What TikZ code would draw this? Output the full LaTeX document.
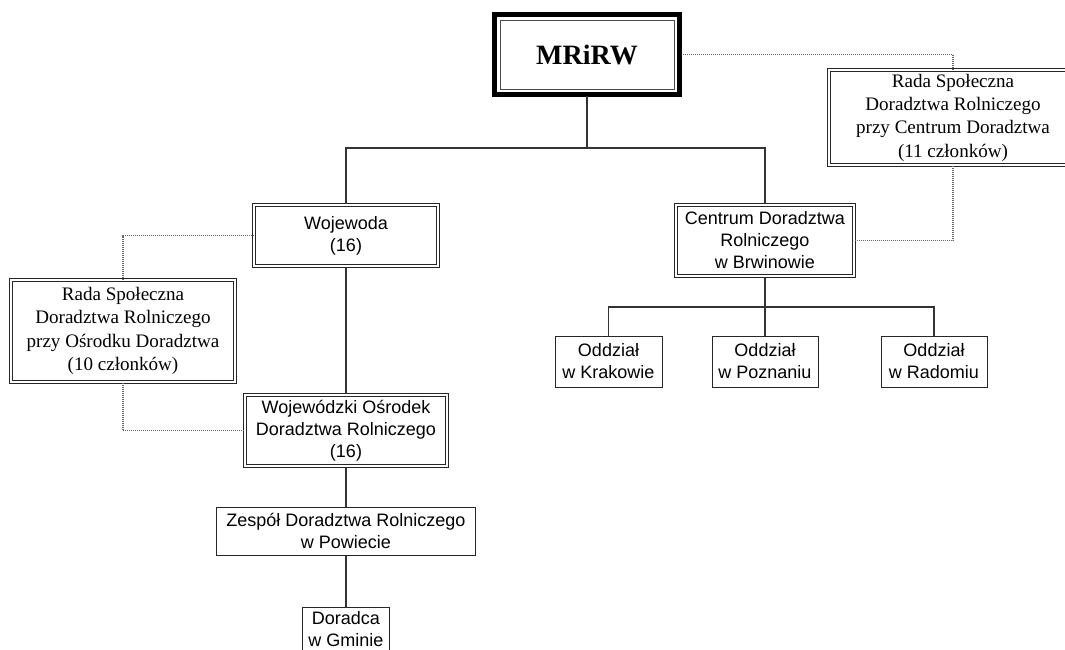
\documentclass[tikz,border=0pt]{standalone}
\usepackage{fontspec}
\setmainfont{Liberation Serif}
\setsansfont{Liberation Sans}
\usetikzlibrary{positioning}
\tikzstyle{unit} = [rectangle, draw=black!85, line width=0.75pt, fill=white,
align=center, inner sep=0pt, font=\sffamily\fontsize{13.5}{16.5}\selectfont]
\tikzstyle{dunit} = [unit, double=white, double distance=1.5pt]
\tikzstyle{council} = [dunit, font=\rmfamily\fontsize{14.3}{17.5}\selectfont]
\tikzstyle{top} = [unit, draw=black!70, font=\rmfamily\bfseries\fontsize{21}{22}\selectfont]
\tikzstyle{link} = [draw=black!80, line width=0.85pt]
\tikzstyle{aux} = [draw=black!60, line width=0.8pt, dash pattern=on 0.75pt off 0.75pt]
\newcommand{\branch}[3][]{ %
  % from the junction #2 down to every node in #3
  \foreach \y in {#3} { %
    \draw[link,#1] (#2) -| (\y) ;%
  } ;
}

\begin{document}
\begin{tikzpicture}[x=0.75pt,y=-0.75pt]
  \path[use as bounding box, clip] (0,0) rectangle (1065,650) ;

  % ministry
  \node[top, minimum width=130.5pt, minimum height=51.75pt] (mr) at (587,54.5) {MRiRW} ; %
  \draw[line width=3.75pt] ([shift={(-4.1pt,4.1pt)}]mr.north west) rectangle ([shift={(4.1pt,-4.1pt)}]mr.south east) ;
  \coordinate (mrE) at ([xshift=6.5pt]mr.east) ;

  % left side
  \node[dunit, minimum width=138pt, minimum height=46pt] (woj) at (346,235.5) {Wojewoda\\(16)} ; %
  \node[council, minimum width=168pt, minimum height=77pt] (radaL) at (123,331) {Rada Społeczna\\Doradztwa Rolniczego\\przy Ośrodku Doradztwa\\(10 członków)} ; %
  \node[dunit, minimum width=151pt, minimum height=53.5pt] (wod) at (346,430.5) {Wojewódzki Ośrodek\\Doradztwa Rolniczego\\(16)} ; %
  \node[unit, minimum width=194.25pt, minimum height=36pt] (zesp) at (346,531) {Zespół Doradztwa Rolniczego\\w Powiecie} ; %
  \node[unit, minimum width=65.25pt, minimum height=33pt] (dor) at (346,629) {Doradca\\w Gminie} ; %

  % right side
  \node[council, minimum width=186pt, minimum height=71.5pt] (radaR) at (953,117.5) {Rada Społeczna\\Doradztwa Rolniczego\\przy Centrum Doradztwa\\(11 członków)} ; %
  \node[dunit, minimum width=134pt, minimum height=53.5pt] (cdr) at (765,240.5) {Centrum Doradztwa\\Rolniczego\\w Brwinowie} ; %
  \node[unit, minimum width=80.25pt, minimum height=38.25pt] (odk) at (608.5,361.5) {Oddział\\w Krakowie} ; %
  \node[unit, minimum width=79.5pt, minimum height=38.25pt] (odp) at (765,361.5) {Oddział\\w Poznaniu} ; %
  \node[unit, minimum width=79.5pt, minimum height=38.25pt] (odr) at (934,361.5) {Oddział\\w Radomiu} ; %

  \coordinate (j1) at (587,148) ;
  \coordinate (j2) at (765,307) ;

  % solid lines
  \draw[link] (mr.south) ++(0,-4.5pt) -- (j1) ;
  \branch{j1}{woj.north, cdr.north}
  \draw[link] (woj.south) -- (wod.north) ;
  \draw[link] (wod.south) -- (zesp.north) ;
  \draw[link] (zesp.south) -- (dor.north) ;
  \draw[link] (cdr.south) -- (j2) ;
  \branch{j2}{odk.north, odp.north, odr.north}

  % dotted lines to the councils
  \draw[aux] (mrE) -| (radaR.north) ;
  \draw[aux] (cdr.east) -| (radaR.south) ;
  \draw[aux] (woj.west) -| (radaL.north) ;
  \draw[aux] (radaL.south) |- (wod.west) ;
\end{tikzpicture}
\end{document}
